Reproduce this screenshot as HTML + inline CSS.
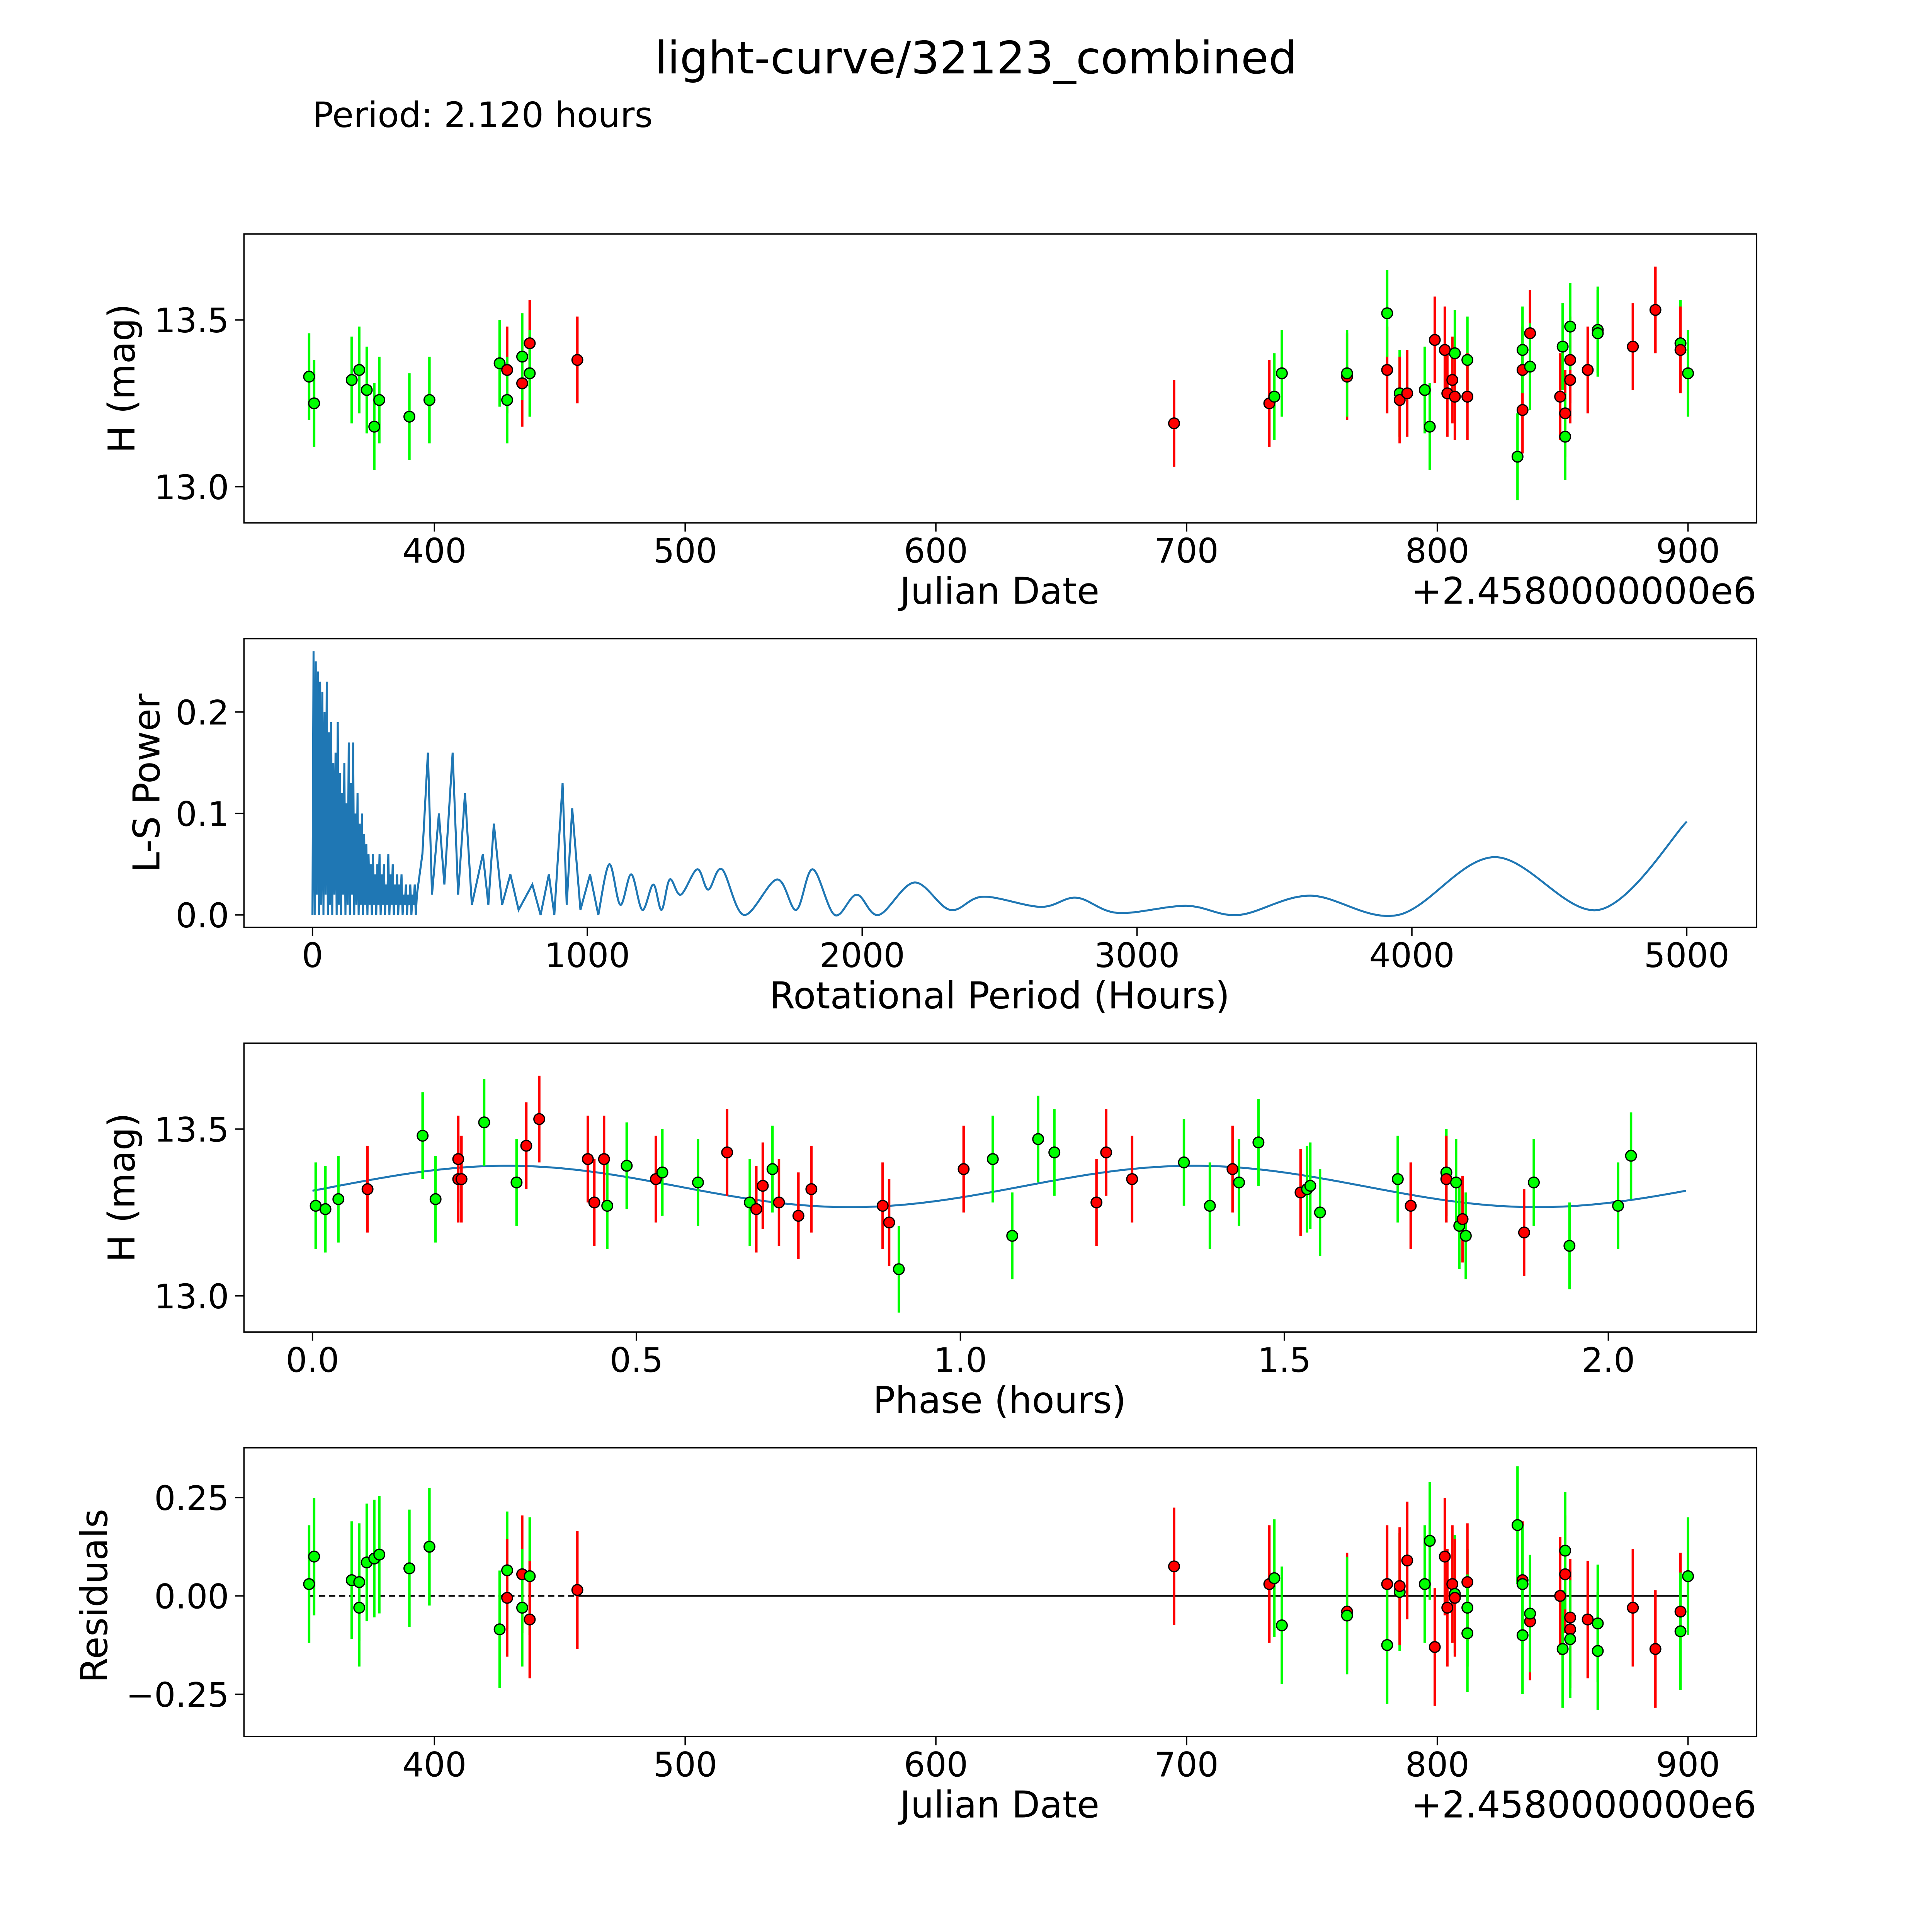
<!DOCTYPE html>
<html>
<head>
<meta charset="utf-8">
<style>
html,body{margin:0;padding:0;background:#fff;overflow:hidden;width:100%;height:100%;}
svg{display:block;width:100vw;height:100vh;font-family:"DejaVu Sans","Liberation Sans",sans-serif;}
</style>
</head>
<body>
<svg id="fig" xmlns="http://www.w3.org/2000/svg" viewBox="0 0 1552 1552" preserveAspectRatio="none">
<rect x="0" y="0" width="1552" height="1552" fill="#fff"/>
<text x="784" y="59" font-size="36" text-anchor="middle">light-curve/32123_combined</text>
<text x="251" y="102" font-size="28">Period: 2.120 hours</text>
</svg>
<script>
// ---------- Panel 1: light curve ----------
const p1Jd=[350,352,367,370,373,378,376,390,398,426,429,429,435,435,438,438,457,695,733,735,738,764,764,780,780,785,785,788,795,797,799,803,804,806,807,807,812,812,832,834,834,834,837,837,849,850,851,851,853,853,853,860,864,864,878,887,897,897,900];
const p1Mag=[13.33,13.25,13.32,13.35,13.29,13.26,13.18,13.21,13.26,13.37,13.35,13.26,13.31,13.39,13.43,13.34,13.38,13.19,13.25,13.27,13.34,13.33,13.34,13.35,13.52,13.28,13.26,13.28,13.29,13.18,13.44,13.41,13.28,13.32,13.40,13.27,13.38,13.27,13.09,13.23,13.35,13.41,13.46,13.36,13.27,13.42,13.22,13.15,13.38,13.32,13.48,13.35,13.47,13.46,13.42,13.53,13.43,13.41,13.34];
const p1Col=['g','g','g','g','g','g','g','g','g','g','r','g','r','g','r','g','r','r','r','g','g','r','g','r','g','g','r','r','g','g','r','r','r','r','g','r','g','r','g','r','r','g','r','g','r','g','r','g','r','r','g','r','g','g','r','r','g','r','g'];
// ---------- Panel 2: periodogram ----------
const lsSpikeP=[0,4,8,12,16,20,24,28,32,36,40,44,48,52,56,60,64,68,72,76,80,84,88,92,96,100,104,108,112,116,120,124,128,132,136,140,144,148,152,156,160,164,168,172,176,180,184,188,192,196,200,204,208,212,216,220,224,228,232,236,240,244,248,252,256,260,264,268,272,276,280,284,288,292,296,300,304,308,312,316,320,324,328,332,336,340,344,348,352,356,360,364,368,372,376,380,
400,420,435,460,480,510,530,555,580,620,640,660,690,720,750,800,830,860,880,910,925,945,975,1010,1040];
const lsSpikeV=[0,.26,0,.25,.02,.24,0,.23,.01,.22,0,.2,.02,.23,0,.18,.01,.19,0,.15,.02,.16,0,.19,.01,.14,0,.12,.02,.15,0,.11,.01,.17,0,.13,.02,.17,0,.1,.01,.12,0,.09,.01,.1,0,.08,.01,.07,0,.06,.01,.05,0,.06,.01,.04,0,.05,.01,.06,0,.04,.01,.05,0,.03,.01,.06,0,.04,.01,.05,0,.03,.01,.04,0,.03,.01,.04,0,.02,.01,.03,0,.02,.01,.03,0,.02,.01,.03,0,.02,
0.06,0.16,0.02,0.1,0.03,0.16,0.02,0.12,0.01,0.06,0.01,0.09,0.01,0.04,0.005,0.03,0.0,0.04,0.0,0.13,0.01,0.105,0.005,0.04,0.0];
const lsSmoothP=[1040,1080,1120,1160,1200,1240,1270,1300,1340,1400,1440,1490,1570,1690,1760,1820,1900,1980,2060,2190,2320,2440,2650,2780,2930,3180,3370,3630,3950,4300,4680,5000];
const lsSmoothV=[0.0,0.05,0.01,0.04,0.005,0.03,0.005,0.035,0.02,0.045,0.025,0.045,0.0,0.035,0.005,0.045,0.0,0.02,0.0,0.032,0.005,0.018,0.008,0.017,0.002,0.009,0.0,0.019,0.0,0.057,0.005,0.092];
// ---------- Panel 3: phased ----------
const p3Phase=[0.005,0.02,0.04,0.085,0.17,0.19,0.225,0.225,0.23,0.265,0.315,0.33,0.35,0.425,0.435,0.45,0.455,0.485,0.53,0.54,0.595,0.64,0.675,0.685,0.695,0.71,0.72,0.75,0.77,0.88,0.89,0.905,1.005,1.05,1.08,1.12,1.145,1.21,1.225,1.265,1.345,1.385,1.42,1.43,1.46,1.525,1.535,1.54,1.555,1.675,1.695,1.75,1.75,1.765,1.77,1.775,1.78,1.87,1.885,1.94,2.015,2.035];
const p3Mag=[13.27,13.26,13.29,13.32,13.48,13.29,13.41,13.35,13.35,13.52,13.34,13.45,13.53,13.41,13.28,13.41,13.27,13.39,13.35,13.37,13.34,13.43,13.28,13.26,13.33,13.38,13.28,13.24,13.32,13.27,13.22,13.08,13.38,13.41,13.18,13.47,13.43,13.28,13.43,13.35,13.40,13.27,13.38,13.34,13.46,13.31,13.32,13.33,13.25,13.35,13.27,13.37,13.35,13.34,13.21,13.23,13.18,13.19,13.34,13.15,13.27,13.42];
const p3Col=['g','g','g','r','g','g','r','r','r','g','g','r','r','r','r','r','g','g','r','g','g','r','g','r','r','g','r','r','r','r','r','g','r','g','g','g','g','r','r','r','g','g','r','g','g','r','g','g','g','g','r','g','r','g','g','r','g','r','g','g','g','g'];
const fitMean=13.328, fitAmp=0.062, fitPer=1.06, fitShift=0.035, phaseMax=2.12;
// ---------- Panel 4: residuals ----------
const p4Jd=[350,352,367,370,370,373,376,378,390,398,426,429,429,435,435,438,438,457,695,733,735,738,764,764,780,780,785,785,788,795,797,799,803,804,806,807,807,812,812,812,832,834,834,834,837,837,849,850,851,851,853,853,853,860,864,864,878,887,897,897,900];
const p4Res=[0.03,0.10,0.04,-0.03,0.035,0.085,0.095,0.105,0.07,0.125,-0.085,0.065,-0.005,0.055,-0.03,0.05,-0.06,0.015,0.075,0.03,0.045,-0.075,-0.04,-0.05,0.03,-0.125,0.01,0.025,0.09,0.03,0.14,-0.13,0.10,-0.03,0.03,0.005,-0.005,-0.03,0.035,-0.095,0.18,0.04,0.03,-0.1,-0.065,-0.045,0.0,-0.135,0.055,0.115,-0.085,-0.055,-0.11,-0.06,-0.14,-0.07,-0.03,-0.135,-0.04,-0.09,0.05];
const p4Col=['g','g','g','g','g','g','g','g','g','g','g','g','r','r','g','g','r','r','r','r','g','g','r','g','r','g','g','r','r','g','g','r','r','r','r','g','r','g','r','g','g','r','g','g','r','g','r','g','r','g','r','r','g','r','g','g','r','r','r','g','g'];

const NS='http://www.w3.org/2000/svg';
const svg=document.getElementById('fig');
function el(tag,parent){const e=document.createElementNS(NS,tag);parent.appendChild(e);return e;}
const COL={g:'#00ff00',r:'#ff0000'};
const ERR=0.13;

function frame(x0,y0,x1,y1,name){
  const g=el('g',svg);
  
  
  const r=el('rect',g);
  r.setAttribute('x',x0);r.setAttribute('y',y0);r.setAttribute('width',x1-x0);r.setAttribute('height',y1-y0);
  r.setAttribute('fill','none');r.setAttribute('stroke','#000');r.setAttribute('stroke-width','1.1');
  
  
  return g;
}
function xticks(g,vals,labels,sx,yb){
  vals.forEach((v,i)=>{
    const x=sx(v);
    const l=el('line',g);
    l.setAttribute('x1',x);l.setAttribute('x2',x);l.setAttribute('y1',yb);l.setAttribute('y2',yb+7);
    l.setAttribute('stroke','#000');l.setAttribute('stroke-width','1.1');
    
    
    const t=el('text',g);
    t.setAttribute('x',x);t.setAttribute('y',yb+32);t.setAttribute('font-size','27');t.setAttribute('text-anchor','middle');
    t.textContent=labels[i];
    
    
  });
}
function yticks(g,vals,labels,sy,xl){
  vals.forEach((v,i)=>{
    const y=sy(v);
    const l=el('line',g);
    l.setAttribute('x1',xl-7);l.setAttribute('x2',xl);l.setAttribute('y1',y);l.setAttribute('y2',y);
    l.setAttribute('stroke','#000');l.setAttribute('stroke-width','1.1');
    
    
    const t=el('text',g);
    t.setAttribute('x',xl-12);t.setAttribute('y',y+10);t.setAttribute('font-size','27');t.setAttribute('text-anchor','end');
    t.textContent=labels[i];
    
    
  });
}
function label(g,txt,x,y,rot,name){
  const t=el('text',g);
  t.setAttribute('x',x);t.setAttribute('y',y);t.setAttribute('font-size','29.5');t.setAttribute('text-anchor','middle');
  if(rot)t.setAttribute('transform','rotate(-90 '+x+' '+y+')');
  t.textContent=txt;
  
  
}
function points(g,xs,ys,cols,sx,sy,err){
  xs.forEach((xv,i)=>{
    const x=sx(xv);
    const c=COL[cols[i]];
    if(err){
      const l=el('line',g);
      l.setAttribute('x1',x);l.setAttribute('x2',x);l.setAttribute('y1',sy(ys[i]-err));l.setAttribute('y2',sy(ys[i]+err));
      l.setAttribute('stroke',c);l.setAttribute('stroke-width','2');
      
      
    }
  });
  xs.forEach((xv,i)=>{
    const c=el('circle',g);
    c.setAttribute('cx',sx(xv));c.setAttribute('cy',sy(ys[i]));c.setAttribute('r','4.3');
    c.setAttribute('fill',COL[cols[i]]);c.setAttribute('stroke','#000');c.setAttribute('stroke-width','1');
    
    
  });
}

// Panel 1
const sx1=v=>349+(v-400)*2.014;
const sy1=v=>391-(v-13)*268;
const g1=frame(196,188,1411,420,'light-curve-panel');
points(g1,p1Jd,p1Mag,p1Col,sx1,sy1,ERR);
xticks(g1,[400,500,600,700,800,900],['400','500','600','700','800','900'],sx1,420);
yticks(g1,[13.0,13.5],['13.0','13.5'],sy1,196);
label(g1,'Julian Date',803,485,false,'x-axis-title');
label(g1,'H (mag)',108,304,true,'y-axis-title');
const o1=el('text',g1);o1.setAttribute('x',1411);o1.setAttribute('y',485);o1.setAttribute('font-size','29.5');o1.setAttribute('text-anchor','end');o1.textContent='+2.4580000000e6';



// Panel 2
const sx2=v=>251+v*0.2208;
const sy2=v=>735-v*815;
const g2=frame(196,513,1411,745,'periodogram-panel');
let d='';
lsSpikeP.forEach((p,i)=>{d+=(i?'L':'M')+sx2(p).toFixed(2)+','+sy2(lsSpikeV[i]).toFixed(2);});
const sp=el('path',g2);sp.setAttribute('d',d);sp.setAttribute('fill','none');sp.setAttribute('stroke','#1f77b4');sp.setAttribute('stroke-width','1.6');


const pts=lsSmoothP.map((p,i)=>[sx2(p),sy2(lsSmoothV[i])]);
let d2='M'+pts[0][0]+','+pts[0][1];
for(let i=0;i<pts.length-1;i++){
  const p0=pts[Math.max(0,i-1)],p1=pts[i],p2=pts[i+1],p3=pts[Math.min(pts.length-1,i+2)];
  const c1=[p1[0]+(p2[0]-p0[0])/6,p1[1]+(p2[1]-p0[1])/6];
  const c2=[p2[0]-(p3[0]-p1[0])/6,p2[1]-(p3[1]-p1[1])/6];
  d2+='C'+c1[0].toFixed(2)+','+c1[1].toFixed(2)+' '+c2[0].toFixed(2)+','+c2[1].toFixed(2)+' '+p2[0].toFixed(2)+','+p2[1].toFixed(2);
}
const sm=el('path',g2);sm.setAttribute('d',d2);sm.setAttribute('fill','none');sm.setAttribute('stroke','#1f77b4');sm.setAttribute('stroke-width','1.6');


xticks(g2,[0,1000,2000,3000,4000,5000],['0','1000','2000','3000','4000','5000'],sx2,745);
yticks(g2,[0,0.1,0.2],['0.0','0.1','0.2'],sy2,196);
label(g2,'Rotational Period (Hours)',803,810,false,'x-axis-title');
label(g2,'L-S Power',128,629,true,'y-axis-title');

// Panel 3
const sx3=v=>251+v*520.5;
const sy3=v=>1041-(v-13)*268;
const g3=frame(196,838,1411,1070,'phased-panel');
let d3='';
for(let k=0;k<=300;k++){const p=phaseMax*k/300;const m=fitMean+fitAmp*Math.sin(2*Math.PI*(p-fitShift)/fitPer);d3+=(k?'L':'M')+sx3(p).toFixed(2)+','+sy3(m).toFixed(2);}
const fit=el('path',g3);fit.setAttribute('d',d3);fit.setAttribute('fill','none');fit.setAttribute('stroke','#1f77b4');fit.setAttribute('stroke-width','1.6');


points(g3,p3Phase,p3Mag,p3Col,sx3,sy3,ERR);
xticks(g3,[0,0.5,1,1.5,2],['0.0','0.5','1.0','1.5','2.0'],sx3,1070);
yticks(g3,[13.0,13.5],['13.0','13.5'],sy3,196);
label(g3,'Phase (hours)',803,1135,false,'x-axis-title');
label(g3,'H (mag)',108,954,true,'y-axis-title');

// Panel 4
const sy4=v=>1282-v*316;
const g4=frame(196,1163,1411,1395,'residuals-panel');
const z1=el('line',g4);z1.setAttribute('x1',sx1(350));z1.setAttribute('x2',sx1(457));z1.setAttribute('y1',sy4(0));z1.setAttribute('y2',sy4(0));z1.setAttribute('stroke','#000');z1.setAttribute('stroke-width','1.2');z1.setAttribute('stroke-dasharray','5,3');


const z2=el('line',g4);z2.setAttribute('x1',sx1(457));z2.setAttribute('x2',sx1(900));z2.setAttribute('y1',sy4(0));z2.setAttribute('y2',sy4(0));z2.setAttribute('stroke','#000');z2.setAttribute('stroke-width','1.2');


points(g4,p4Jd,p4Res,p4Col,sx1,sy4,ERR*1.15);
xticks(g4,[400,500,600,700,800,900],['400','500','600','700','800','900'],sx1,1395);
yticks(g4,[-0.25,0,0.25],['\u22120.25','0.00','0.25'],sy4,196);
label(g4,'Julian Date',803,1460,false,'x-axis-title');
label(g4,'Residuals',86,1282,true,'y-axis-title');
const o4=el('text',g4);o4.setAttribute('x',1411);o4.setAttribute('y',1460);o4.setAttribute('font-size','29.5');o4.setAttribute('text-anchor','end');o4.textContent='+2.4580000000e6';


</script>
</body>
</html>
